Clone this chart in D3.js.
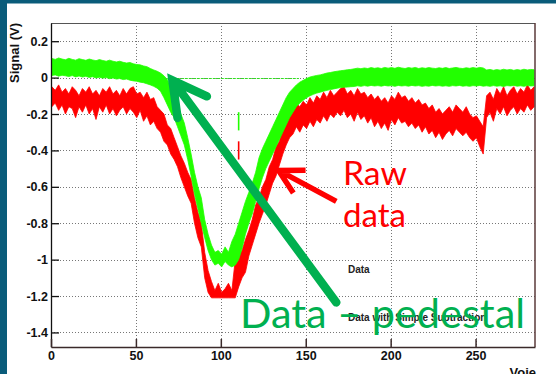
<!DOCTYPE html>
<html><head><meta charset="utf-8">
<script src="https://cdn.jsdelivr.net/npm/d3@7"></script>
<style>html,body{margin:0;padding:0;background:#fff;overflow:hidden}</style>
</head><body><svg id="c" width="556" height="374"></svg>
<script>
// Raw data band (upper / lower envelope), one entry per 2 channels (0..284)
const rawHigh=[
-0.05,-0.07,-0.04,-0.08,-0.06,-0.09,-0.05,-0.07,-0.10,-0.06,
-0.08,-0.05,-0.09,-0.07,-0.10,-0.06,-0.08,-0.05,-0.09,-0.07,
-0.10,-0.06,-0.09,-0.06,-0.05,-0.09,-0.08,-0.11,-0.08,-0.12,
-0.11,-0.16,-0.18,-0.20,-0.26,-0.28,-0.33,-0.38,-0.43,-0.47,
-0.52,-0.56,-0.66,-0.74,-0.80,-0.96,-1.06,-1.12,-1.17,-1.13,
-1.18,-1.16,-1.13,-1.17,-1.00,-0.98,-0.95,-0.89,-0.84,-0.78,
-0.70,-0.66,-0.60,-0.56,-0.49,-0.45,-0.38,-0.35,-0.27,-0.23,
-0.20,-0.18,-0.14,-0.16,-0.13,-0.15,-0.11,-0.14,-0.10,-0.12,
-0.08,-0.11,-0.07,-0.10,-0.08,-0.06,-0.05,-0.09,-0.07,-0.10,
-0.06,-0.09,-0.08,-0.11,-0.09,-0.12,-0.10,-0.13,-0.11,-0.14,
-0.10,-0.12,-0.08,-0.11,-0.10,-0.13,-0.11,-0.14,-0.12,-0.15,
-0.14,-0.17,-0.15,-0.19,-0.17,-0.20,-0.18,-0.16,-0.19,-0.15,
-0.17,-0.19,-0.16,-0.20,-0.22,-0.21,-0.24,-0.27,-0.10,-0.08,
-0.12,-0.06,-0.09,-0.05,-0.10,-0.07,-0.05,-0.09,-0.06,-0.08,
-0.04,-0.07,-0.05];
const rawLow=[
-0.16,-0.14,-0.18,-0.15,-0.20,-0.16,-0.17,-0.22,-0.16,-0.19,
-0.15,-0.20,-0.17,-0.23,-0.16,-0.19,-0.15,-0.20,-0.17,-0.21,
-0.18,-0.16,-0.20,-0.17,-0.19,-0.22,-0.18,-0.24,-0.21,-0.26,
-0.24,-0.28,-0.30,-0.35,-0.37,-0.42,-0.45,-0.49,-0.55,-0.60,
-0.65,-0.69,-0.80,-0.88,-0.93,-1.10,-1.18,-1.21,-1.21,-1.21,
-1.21,-1.21,-1.21,-1.21,-1.21,-1.15,-1.10,-1.07,-0.98,-0.92,
-0.86,-0.80,-0.75,-0.70,-0.64,-0.58,-0.54,-0.48,-0.42,-0.37,
-0.33,-0.31,-0.27,-0.30,-0.26,-0.28,-0.24,-0.27,-0.23,-0.25,
-0.21,-0.24,-0.20,-0.22,-0.19,-0.21,-0.18,-0.22,-0.20,-0.24,
-0.19,-0.23,-0.21,-0.25,-0.22,-0.27,-0.24,-0.28,-0.25,-0.29,
-0.23,-0.26,-0.22,-0.25,-0.24,-0.27,-0.25,-0.28,-0.26,-0.30,
-0.27,-0.31,-0.29,-0.33,-0.30,-0.34,-0.31,-0.29,-0.32,-0.28,
-0.30,-0.32,-0.30,-0.33,-0.35,-0.33,-0.38,-0.42,-0.22,-0.19,
-0.24,-0.17,-0.20,-0.16,-0.21,-0.18,-0.16,-0.20,-0.17,-0.19,
-0.15,-0.18,-0.16];
// Data with simple subtraction band
const subHigh=[
0.105,0.100,0.108,0.102,0.098,0.106,0.100,0.096,0.104,0.099,
0.095,0.102,0.097,0.093,0.099,0.094,0.090,0.096,0.090,0.086,
0.090,0.084,0.080,0.083,0.076,0.072,0.070,0.064,0.060,0.050,
0.042,0.035,0.025,0.010,-0.010,-0.050,-0.100,-0.150,-0.200,-0.250,
-0.330,-0.420,-0.520,-0.600,-0.660,-0.780,-0.860,-0.920,-0.960,-0.950,
-0.970,-0.930,-0.960,-0.900,-0.860,-0.800,-0.740,-0.680,-0.630,-0.580,
-0.520,-0.440,-0.390,-0.350,-0.310,-0.270,-0.230,-0.190,-0.150,-0.110,
-0.080,-0.060,-0.040,-0.025,-0.015,-0.005,0.003,0.008,0.012,0.015,
0.020,0.025,0.028,0.032,0.035,0.038,0.040,0.043,0.045,0.048,
0.052,0.049,0.053,0.050,0.055,0.051,0.054,0.050,0.056,0.052,
0.055,0.051,0.057,0.053,0.050,0.055,0.052,0.056,0.050,0.054,
0.051,0.055,0.052,0.050,0.054,0.051,0.055,0.050,0.053,0.056,
0.052,0.050,0.054,0.051,0.055,0.052,0.056,0.053,0.042,0.045,
0.040,0.044,0.041,0.046,0.042,0.045,0.040,0.044,0.041,0.046,
0.042,0.045,0.043];
const subLow=[
0.012,0.015,0.008,0.013,0.010,0.006,0.011,0.004,0.009,0.003,
0.007,0.001,0.005,-0.002,0.002,-0.003,0.000,-0.006,-0.002,-0.008,
-0.005,-0.011,-0.008,-0.014,-0.018,-0.020,-0.025,-0.028,-0.034,-0.040,
-0.048,-0.058,-0.075,-0.110,-0.150,-0.190,-0.220,-0.270,-0.320,-0.370,
-0.450,-0.540,-0.640,-0.720,-0.800,-0.880,-0.950,-1.000,-1.030,-1.020,
-1.040,-1.010,-1.030,-1.040,-1.030,-1.000,-0.940,-0.860,-0.800,-0.750,
-0.680,-0.610,-0.550,-0.500,-0.460,-0.420,-0.380,-0.340,-0.300,-0.260,
-0.220,-0.190,-0.160,-0.140,-0.125,-0.110,-0.100,-0.092,-0.085,-0.080,
-0.075,-0.070,-0.066,-0.062,-0.058,-0.055,-0.053,-0.052,-0.050,-0.049,
-0.045,-0.048,-0.044,-0.047,-0.043,-0.046,-0.044,-0.047,-0.043,-0.046,
-0.044,-0.048,-0.043,-0.046,-0.044,-0.047,-0.043,-0.046,-0.044,-0.048,
-0.045,-0.047,-0.043,-0.046,-0.044,-0.047,-0.045,-0.048,-0.044,-0.046,
-0.043,-0.047,-0.045,-0.048,-0.044,-0.046,-0.043,-0.047,-0.045,-0.048,
-0.044,-0.047,-0.045,-0.049,-0.044,-0.046,-0.043,-0.047,-0.045,-0.048,
-0.044,-0.046,-0.045];
const channelStep=2;
// isolated stray points
const strayCh=[110.5];
const straySubHigh=[-0.19], straySubLow=[-0.29];
const strayRawHigh=[-0.35], strayRawLow=[-0.45];
const zeroSegment=[67,146];
const xTicks=[0,50,100,150,200,250];
const xTickLabels=["0","50","100","150","200","250"];
const yTicks=[0.2,0,-0.2,-0.4,-0.6,-0.8,-1,-1.2,-1.4];
const yTickLabels=["0.2","0","-0.2","-0.4","-0.6","-0.8","-1","-1.2","-1.4"];
const legendLabels=["Data","Data with Simple Subtraction"];

const svg=d3.select("#c");
const L=51,R=535,T=23,B=347;
const x=d3.scaleLinear().domain([0,285]).range([L,R]);
const y=d3.scaleLinear().domain([-1.48,0.3]).range([B,T]);
const font='"Liberation Sans", Arial, Helvetica, sans-serif';

svg.append("rect").attr("width",556).attr("height",374).attr("fill","#fff");

// grid
const grid=svg.append("g").attr("stroke","#777").attr("stroke-width",1).attr("stroke-dasharray","1,2");
grid.selectAll(".gy").data(yTicks).join("line").attr("x1",L).attr("x2",R)
  .attr("y1",d=>Math.round(y(d))+0.5).attr("y2",d=>Math.round(y(d))+0.5);
grid.selectAll(".gx").data(xTicks.filter(d=>d>0)).join("line").attr("y1",T).attr("y2",B)
  .attr("x1",d=>Math.round(x(d))+0.5).attr("x2",d=>Math.round(x(d))+0.5);

svg.append("clipPath").attr("id","clip").append("rect").attr("x",L).attr("y",T).attr("width",R-L).attr("height",B-T);
const plot=svg.append("g").attr("clip-path","url(#clip)");

function band(hi,lo,color){
  const ar=d3.area().x((d,i)=>x(i*channelStep+0.5)).y0((d,i)=>y(lo[i])).y1((d,i)=>y(hi[i])).curve(d3.curveLinear);
  plot.append("path").attr("d",ar(hi)).attr("fill",color).attr("stroke",color).attr("stroke-width",0.8);
}
band(rawHigh,rawLow,"#ff0000");
plot.selectAll(".sr").data(strayCh).join("rect").attr("x",d=>x(d)-0.8).attr("width",1.6)
  .attr("y",(d,i)=>y(strayRawHigh[i])).attr("height",(d,i)=>y(strayRawLow[i])-y(strayRawHigh[i])).attr("fill","#ff0000");
band(subHigh,subLow,"#22ff00");
plot.selectAll(".sg").data(strayCh).join("rect").attr("x",d=>x(d)-0.8).attr("width",1.6)
  .attr("y",(d,i)=>y(straySubHigh[i])).attr("height",(d,i)=>y(straySubLow[i])-y(straySubHigh[i])).attr("fill","#22ff00");
plot.append("line").attr("x1",x(zeroSegment[0])).attr("x2",x(zeroSegment[1]))
  .attr("y1",Math.round(y(0))+0.5).attr("y2",Math.round(y(0))+0.5).attr("stroke","#33dd22").attr("stroke-width",1).attr("stroke-dasharray","3,1");

// frame
svg.append("line").attr("x1",L).attr("x2",R).attr("y1",T+0.5).attr("y2",T+0.5).attr("stroke","#555").attr("stroke-width",1.2);
svg.append("line").attr("x1",R).attr("x2",R).attr("y1",T).attr("y2",B).attr("stroke","#5a3a3a").attr("stroke-width",1.5);

// axes
const yMinor=d3.range(-1.45,0.3,0.05).map(v=>Math.round(v*100)/100);
const ax=svg.append("g").attr("transform",`translate(${L},0)`);
ax.call(d3.axisLeft(y).tickValues(yMinor).tickSize(-4).tickSizeOuter(0).tickFormat(""));
ax.call(d3.axisLeft(y).tickValues(yTicks).tickSize(-8).tickSizeOuter(0).tickPadding(3).tickFormat((d,i)=>yTickLabels[i]));
ax.selectAll("path,line").attr("stroke","#111").attr("stroke-width",1.3);
ax.selectAll("text").attr("font-family",font).attr("font-weight","bold").attr("font-size",12.5).attr("fill","#111");

const xMinor=d3.range(0,290,10);
const bx=svg.append("g").attr("transform",`translate(0,${B})`);
bx.call(d3.axisBottom(x).tickValues(xMinor).tickSize(-4).tickSizeOuter(0).tickFormat(""));
bx.call(d3.axisBottom(x).tickValues(xTicks).tickSize(-8).tickSizeOuter(0).tickPadding(4).tickFormat((d,i)=>xTickLabels[i]));
bx.selectAll("path,line").attr("stroke","#3a2a2a").attr("stroke-width",1.5);
bx.selectAll("text").attr("font-family",font).attr("font-weight","bold").attr("font-size",12.5).attr("fill","#111");

// axis titles
svg.append("text").attr("transform","translate(19,23) rotate(-90)").attr("text-anchor","end")
  .attr("font-family",font).attr("font-weight","bold").attr("font-size",13).attr("fill","#111").text("Signal (V)");
svg.append("text").attr("x",536).attr("y",377).attr("text-anchor","end")
  .attr("font-family",font).attr("font-weight","bold").attr("font-size",13).attr("fill","#111").text("Voie");

// legend
svg.selectAll(".leg").data(legendLabels).join("text").attr("x",348).attr("y",(d,i)=>273+i*48)
  .attr("font-family",font).attr("font-weight","bold").attr("font-size",10).attr("fill","#222").text(d=>d);

// annotations
const ann='Lato, "Open Sans", Calibri, sans-serif';
svg.append("text").attr("x",240).attr("y",328).attr("font-family",ann).attr("font-size",41).attr("fill","#00b050")
  .attr("textLength",285).attr("lengthAdjust","spacingAndGlyphs").text("Data – pedestal");
svg.append("text").attr("x",343).attr("y",185).attr("font-family",ann).attr("font-size",33).attr("fill","#ff0000")
  .attr("textLength",64).attr("lengthAdjust","spacingAndGlyphs").text("Raw");
svg.append("text").attr("x",343).attr("y",227).attr("font-family",ann).attr("font-size",33).attr("fill","#ff0000")
  .attr("textLength",63).attr("lengthAdjust","spacingAndGlyphs").text("data");

function arrow(tip,tail,color,w,arm,spread,cap){
  const a=Math.atan2(tail[1]-tip[1],tail[0]-tip[0]);
  const p=d3.path();
  p.moveTo(tail[0],tail[1]);p.lineTo(tip[0],tip[1]);
  p.moveTo(tip[0]+arm*Math.cos(a-spread),tip[1]+arm*Math.sin(a-spread));
  p.lineTo(tip[0],tip[1]);
  p.lineTo(tip[0]+arm*Math.cos(a+spread),tip[1]+arm*Math.sin(a+spread));
  svg.append("path").attr("d",p.toString()).attr("fill","none").attr("stroke",color).attr("stroke-width",w)
    .attr("stroke-linecap",cap).attr("stroke-linejoin","miter");
}
arrow([x(71.5),y(-0.015)],[x(168),y(-1.235)],"#00b050",8.5,38,0.5,"round");
arrow([x(134),y(-0.51)],[x(168),y(-0.68)],"#ff0000",5.5,27,0.5,"butt");

// slide frame
svg.append("rect").attr("x",0).attr("y",0).attr("width",556).attr("height",3.5).attr("fill","#0a5c7a");
svg.append("rect").attr("x",0).attr("y",0).attr("width",7).attr("height",374).attr("fill","#0a5c7a");
</script></body></html>
